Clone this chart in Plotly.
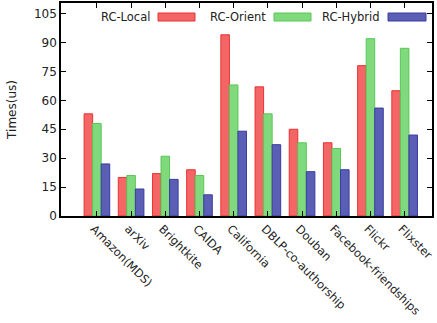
import plotly.graph_objects as go

# Datasets and per-method query times (microseconds)
datasets = ["Amazon(MDS)", "arXiv", "Brightkite", "CAIDA", "California",
            "DBLP-co-authorship", "Douban", "Facebook-friendships", "Flickr", "Flixster"]
rc_local = [53, 20, 22, 24, 94, 67, 45, 38, 78, 65]
rc_orient = [48, 21, 31, 21, 68, 53, 38, 35, 92, 87]
rc_hybrid = [27, 14, 19, 11, 44, 37, 23, 24, 56, 42]

series = [
    ("RC-Local", rc_local, "#f46666", "#e83232"),
    ("RC-Orient", rc_orient, "#80d97c", "#58c858"),
    ("RC-Hybrid", rc_hybrid, "#5a5eb4", "#3a3ca0"),
]

FONT = "DejaVu Sans"
W, H = 437, 323
ML, MR, MT, MB = 61, 5, 3, 107
PW, PH = W - ML - MR, H - MT - MB

fig = go.Figure()
for name, vals, fill, edge in series:
    fig.add_trace(go.Bar(
        x=datasets, y=vals, name=name,
        marker=dict(color=fill, line=dict(color=edge, width=1)),
        showlegend=False,
    ))


def px_x(p):
    return (p - ML) / PW


def px_y(p):
    return (H - MB - p) / PH


# Key in gnuplot style: label followed by its colour sample
key = [("RC-Local", 152, 158, 195), ("RC-Orient", 268, 274, 311), ("RC-Hybrid", 382, 388, 426)]
for (label, text_end, s0, s1), (_, _, fill, edge) in zip(key, series):
    fig.add_annotation(
        x=px_x(text_end), y=px_y(17), xref="paper", yref="paper",
        text=label, showarrow=False, xanchor="right", yanchor="middle",
        font=dict(family=FONT, size=11.5, color="#222"),
    )
    fig.add_shape(
        type="rect", xref="paper", yref="paper",
        x0=px_x(s0), x1=px_x(s1), y0=px_y(21), y1=px_y(13),
        fillcolor=fill, line=dict(color=edge, width=1),
    )

axis_common = dict(
    showline=True, linecolor="black", linewidth=1.5, mirror="ticks",
    ticks="inside", ticklen=5, tickwidth=1, tickcolor="black",
    showgrid=False, zeroline=False, automargin=False,
)

fig.update_layout(
    width=W, height=H,
    margin=dict(l=ML, r=MR, t=MT, b=MB),
    paper_bgcolor="white", plot_bgcolor="white",
    barmode="group", bargap=0.25, bargroupgap=0,
    font=dict(family=FONT, size=12, color="#222"),
    xaxis=dict(
        **axis_common, type="category", range=[-1.05, 9.8],
        tickangle=45, ticklabelshift=-3,
        tickfont=dict(family=FONT, size=11.5, color="#222"),
    ),
    yaxis=dict(
        **axis_common, range=[0, 110.5], tickvals=list(range(0, 106, 15)),
        tickfont=dict(family=FONT, size=12, color="#222"),
        title=dict(text="Times(us)", font=dict(family=FONT, size=12, color="#222"), standoff=15),
    ),
)

fig.write_html("out.html")
